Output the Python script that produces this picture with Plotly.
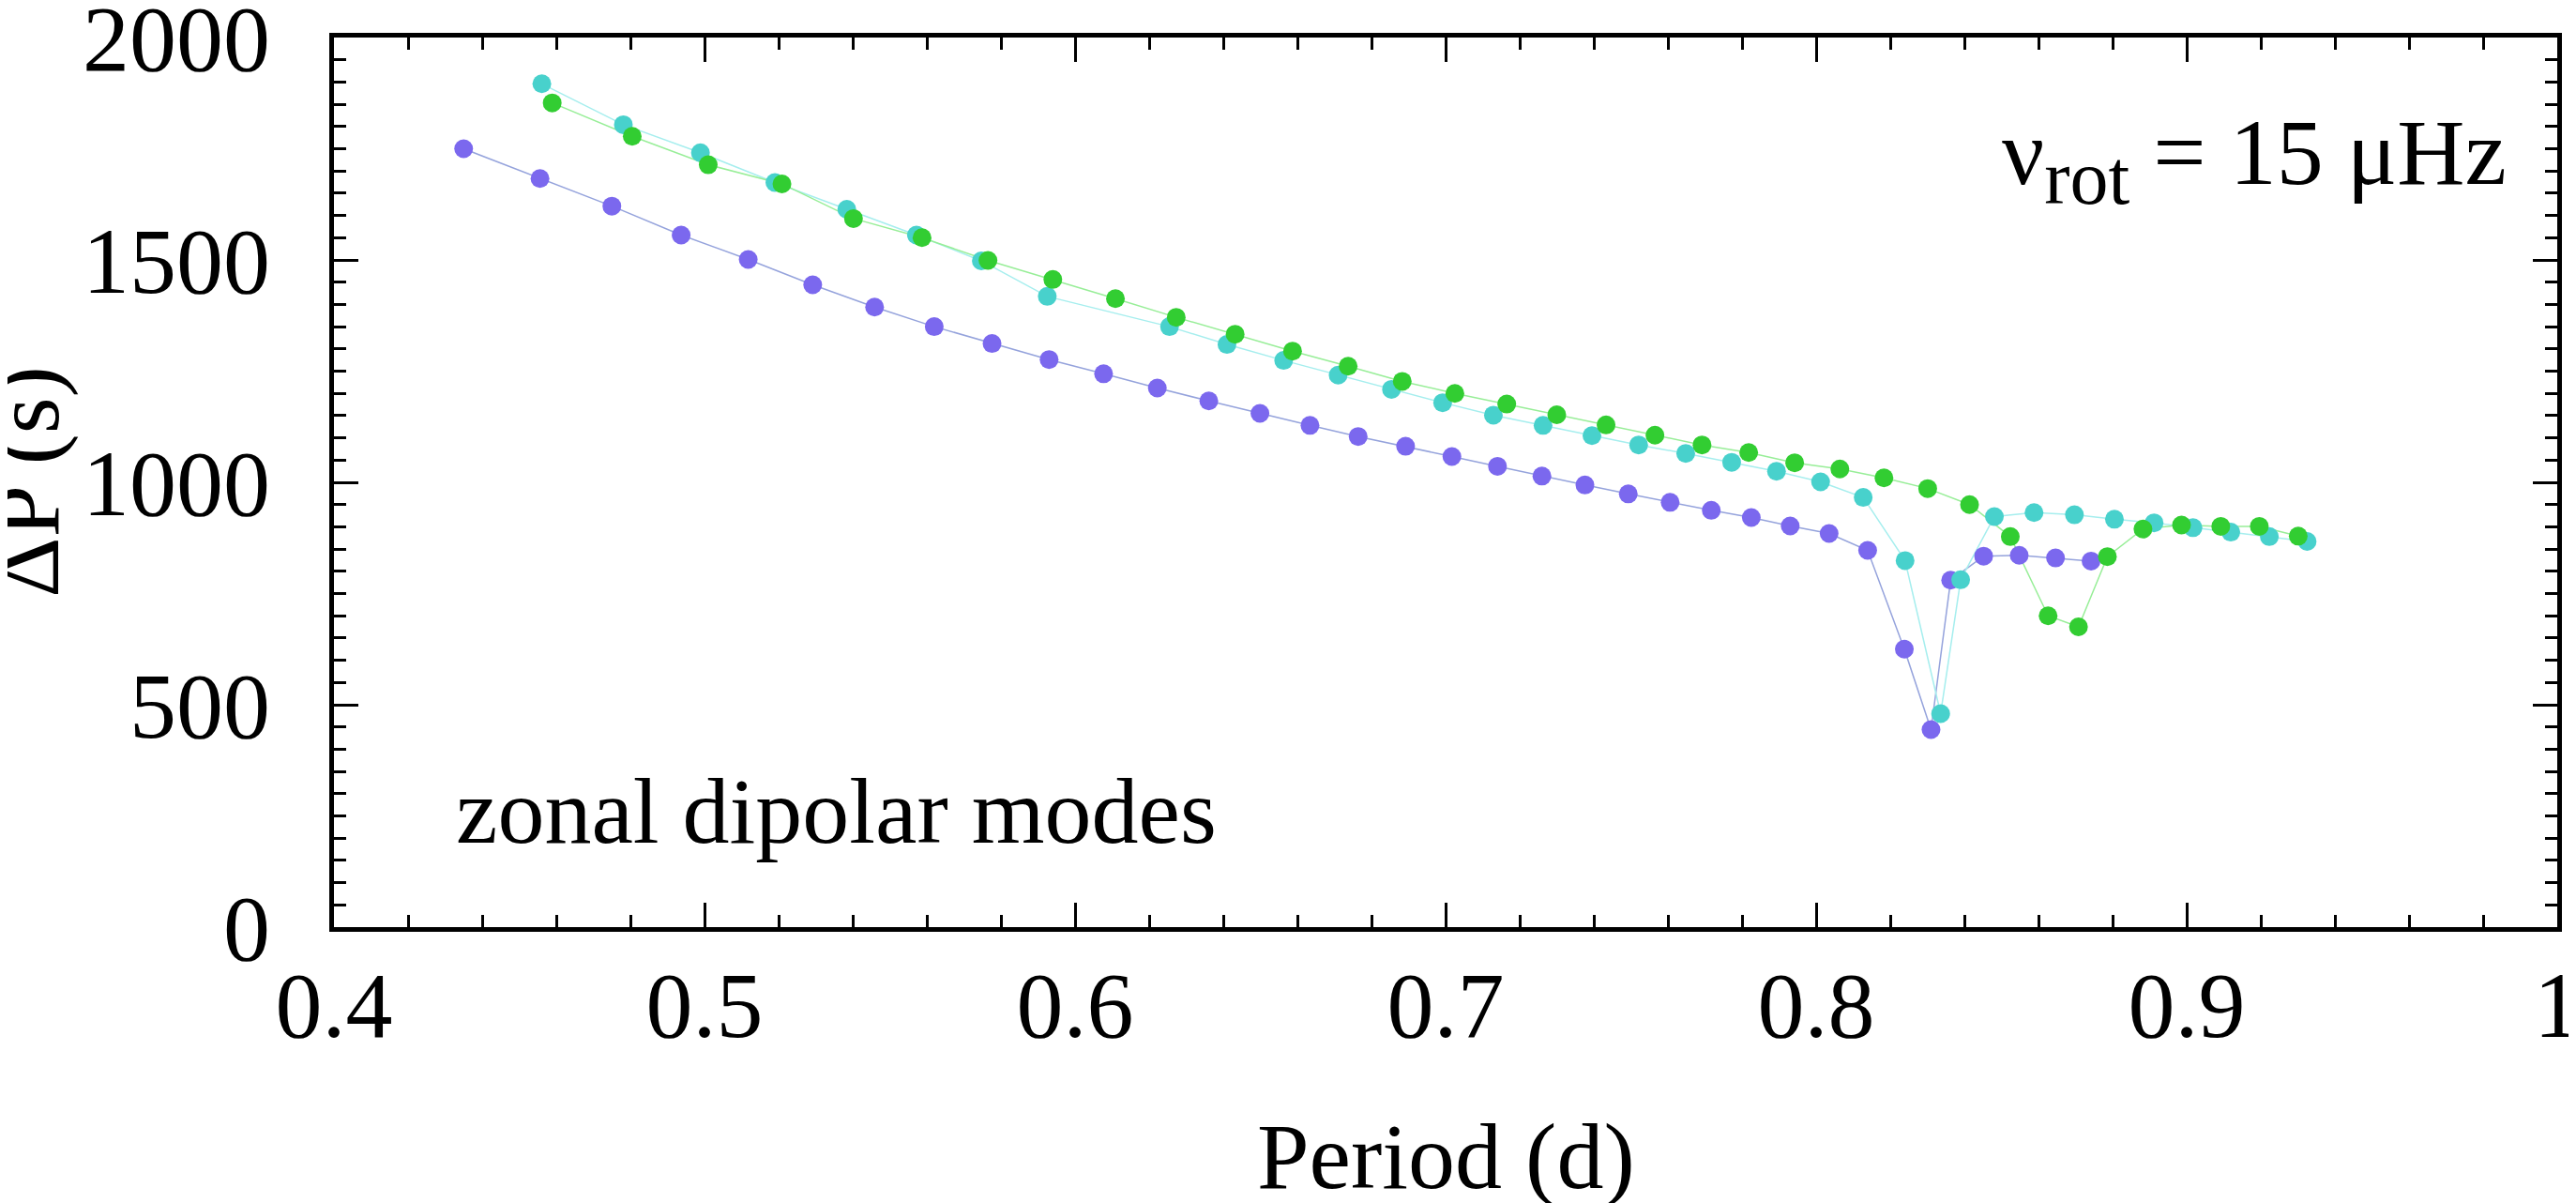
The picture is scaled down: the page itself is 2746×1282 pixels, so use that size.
import plotly.graph_objects as go

# ---- data ----
purple_period = [0.4350, 0.4556, 0.4750, 0.4937, 0.5118, 0.5292, 0.5459, 0.5620, 0.5776, 0.5930,
                 0.6077, 0.6222, 0.6361, 0.6499, 0.6634, 0.6764, 0.6892, 0.7017, 0.7140, 0.7260,
                 0.7376, 0.7493, 0.7606, 0.7717, 0.7825, 0.7930, 0.8035, 0.8139, 0.8238, 0.8310,
                 0.8363, 0.8452, 0.8548, 0.8646, 0.8742]
purple_dp = [1750, 1683, 1621, 1556, 1501, 1444, 1394, 1350, 1312, 1276,
             1244, 1212, 1183, 1155, 1128, 1103, 1081, 1058, 1036, 1014,
             994, 974, 955, 937, 921, 902, 885, 847, 625, 444,
             780, 834, 836, 830, 823]

cyan_period = [0.4561, 0.4781, 0.4989, 0.5190, 0.5384, 0.5572, 0.5747, 0.5925, 0.6255, 0.6410,
               0.6563, 0.6710, 0.6854, 0.6992, 0.7129, 0.7263, 0.7395, 0.7521, 0.7648, 0.7772,
               0.7893, 0.8012, 0.8127, 0.8240, 0.8336, 0.8390, 0.8481, 0.8588, 0.8697, 0.8805,
               0.8912, 0.9017, 0.9119, 0.9223, 0.9325]
cyan_dp = [1896, 1804, 1741, 1674, 1614, 1556, 1498, 1418, 1350, 1310,
           1274, 1241, 1209, 1179, 1151, 1128, 1105, 1084, 1065, 1045,
           1025, 1001, 966, 824, 480, 781, 923, 932, 927, 917,
           909, 898, 888, 878, 867]

green_period = [0.4589, 0.4805, 0.5010, 0.5209, 0.5402, 0.5587, 0.5765, 0.5940, 0.6109, 0.6273,
                0.6432, 0.6587, 0.6737, 0.6883, 0.7025, 0.7165, 0.7300, 0.7433, 0.7565, 0.7692,
                0.7818, 0.7942, 0.8064, 0.8183, 0.8301, 0.8414, 0.8524, 0.8626, 0.8708, 0.8786,
                0.8882, 0.8986, 0.9092, 0.9196, 0.9301]
green_dp = [1853, 1778, 1714, 1671, 1593, 1550, 1499, 1456, 1413, 1371,
            1333, 1295, 1261, 1227, 1200, 1176, 1152, 1129, 1106, 1084,
            1067, 1044, 1030, 1010, 986, 950, 878, 700, 675, 833,
            895, 904, 901, 901, 879]

x_ticks = [0.4, 0.5, 0.6, 0.7, 0.8, 0.9, 1.0]
x_ticklabels = ["0.4", "0.5", "0.6", "0.7", "0.8", "0.9", "1"]
y_ticks = [0, 500, 1000, 1500, 2000]

x_title = "Period (d)"
y_title = "ΔP (s)"

FONT = "Liberation Serif, Times New Roman, serif"
FS = 100

series = [
    (purple_period, purple_dp, "#7b68ee", "#95a3dc"),
    (cyan_period, cyan_dp, "#48d1cc", "#a6eeee"),
    (green_period, green_dp, "#32cd32", "#98ee98"),
]

fig = go.Figure()
for px_, dp_, mcol, lcol in series:
    fig.add_trace(go.Scatter(x=px_, y=dp_, mode="lines", line=dict(color=lcol, width=1.5),
                             showlegend=False, hoverinfo="skip"))
for px_, dp_, mcol, lcol in series:
    fig.add_trace(go.Scatter(x=px_, y=dp_, mode="markers",
                             marker=dict(color=mcol, size=20, line=dict(width=0)),
                             showlegend=False))

axis_common = dict(
    showline=True, linecolor="black", linewidth=5, mirror="allticks",
    ticks="inside", ticklen=26, tickwidth=3, tickcolor="black",
    showgrid=False, zeroline=False, ticklabeloverflow="allow", automargin=False,
    tickfont=dict(family=FONT, size=FS, color="black"),
)

fig.update_xaxes(
    range=[0.4, 1.0], tickvals=x_ticks, ticktext=x_ticklabels,
    minor=dict(dtick=0.02, ticks="inside", ticklen=13, tickwidth=3, tickcolor="black"),
    ticklabelstandoff=-8,
    **axis_common,
)
fig.update_yaxes(
    range=[0, 2000], tickvals=y_ticks,
    minor=dict(dtick=50, ticks="inside", ticklen=13, tickwidth=3, tickcolor="black"),
    ticklabelstandoff=43,
    **axis_common,
)

# axis titles as annotations for exact placement
fig.add_annotation(x=0.5, y=-0.2574, xref="paper", yref="paper", xanchor="center", yanchor="middle",
                   text=x_title, showarrow=False, font=dict(family=FONT, size=FS, color="black"))
fig.add_annotation(x=-0.1385, y=0.501, xref="paper", yref="paper", xanchor="center", yanchor="middle",
                   text=y_title, textangle=-90, showarrow=False,
                   font=dict(family=FONT, size=FS, color="black"))

fig.add_annotation(x=0.978, y=0.862, xref="paper", yref="paper", xanchor="right", yanchor="middle",
                   text="ν<sub><span style='font-size:82px'>rot</span></sub> = 15 μHz", showarrow=False,
                   font=dict(family=FONT, size=FS, color="black"))
fig.add_annotation(x=0.054, y=0.13, xref="paper", yref="paper", xanchor="left", yanchor="middle",
                   text="zonal dipolar modes", showarrow=False,
                   font=dict(family=FONT, size=FS, color="black"))

fig.update_layout(
    width=2746, height=1282,
    margin=dict(l=348, r=28, t=32, b=302),
    paper_bgcolor="white", plot_bgcolor="white",
    font=dict(family=FONT, size=FS, color="black"),
)

fig.write_html("out.html")
